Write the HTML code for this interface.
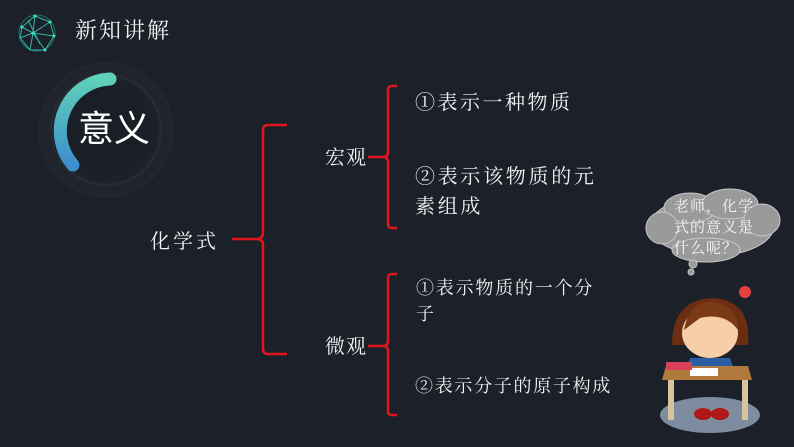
<!DOCTYPE html><html><head><meta charset="utf-8"><style>
body{margin:0;width:794px;height:447px;background:#1c2029;overflow:hidden;position:relative;font-family:"Liberation Serif","Noto Serif CJK SC",serif;color:#f2f2f2}
.t{position:absolute;white-space:nowrap;line-height:1}
</style></head><body>
<svg width="794" height="447" style="position:absolute;left:0;top:0">
<defs><linearGradient id="g" x1="0" y1="0" x2="0" y2="1"><stop offset="0" stop-color="#5fd0b9"/><stop offset="1" stop-color="#3f8fcf"/></linearGradient>
<radialGradient id="rg"><stop offset="0.6" stop-color="#1a1e26"/><stop offset="1" stop-color="#22262f"/></radialGradient></defs>
<g stroke="#2fb9a6" stroke-width="1" fill="none">
<circle cx="37" cy="33" r="18" stroke-opacity="0.5"/>
<path d="M22 27L35 16L50 22L54 36L45 50L30 50L20 38Z M35 16L33 33L50 22 M22 27L33 33L20 38 M33 33L45 50 M33 33L54 36 M33 33L30 50 M28 20L40 44"/>
</g>
<g fill="#3fe0c8"><circle cx="35" cy="16" r="1.5"/><circle cx="50" cy="22" r="1.5"/><circle cx="33" cy="33" r="1.5"/><circle cx="22" cy="27" r="1.5"/><circle cx="45" cy="50" r="1.5"/><circle cx="54" cy="36" r="1.5"/></g>
<circle cx="106" cy="130" r="68" fill="url(#rg)"/>
<circle cx="106" cy="130" r="55" fill="none" stroke="#262a33" stroke-width="3"/>
<path d="M73 165 A52 52 0 0 1 110 79" fill="none" stroke="url(#g)" stroke-width="13" stroke-linecap="round"/>
<g stroke="#e0161e" stroke-width="2.5" fill="none">
<path d="M287 125H268Q263 125 263 130V233Q263 239 256 239H232M256 239Q263 239 263 245V349Q263 354 268 354H287"/>
<path d="M397 86H392Q388 86 388 90V152Q388 157 383 157H368M383 157Q388 157 388 162V224Q388 228 392 228H397"/>
<path d="M397 274H392Q388 274 388 278V341Q388 346 383 346H368M383 346Q388 346 388 351V411Q388 415 392 415H397"/>
</g>
<g fill="#9a9a9a" stroke="#c8c8c8" stroke-width="1">
<ellipse cx="712" cy="226" rx="62" ry="30"/>
<ellipse cx="690" cy="208" rx="26" ry="15"/><ellipse cx="730" cy="204" rx="28" ry="15"/><ellipse cx="762" cy="220" rx="18" ry="16"/><ellipse cx="662" cy="228" rx="16" ry="16"/><ellipse cx="706" cy="250" rx="34" ry="12"/>
<circle cx="693" cy="264" r="4"/><circle cx="691" cy="272" r="3"/>
</g>
<path d="M672 345Q672 300 712 298Q752 300 748 345Z" fill="#6b2e10"/>
<ellipse cx="710" cy="333" rx="28" ry="25" fill="#f6cfa8"/>
<path d="M684 330Q690 300 712 302Q738 304 738 330Q725 312 700 318Z" fill="#7a3a16"/>
</svg>
<svg width="794" height="447" style="position:absolute;left:0;top:0">
<ellipse cx="710" cy="415" rx="50" ry="18" fill="#7e8ca0"/>
<circle cx="745" cy="292" r="6" fill="#e04040"/>
<path d="M690 358L730 358L736 376L684 376Z" fill="#2a5fa8"/>
<path d="M666 366L748 366L752 380L662 380Z" fill="#b07a3c"/>
<rect x="668" y="380" width="6" height="40" fill="#d8c49c"/><rect x="742" y="380" width="6" height="40" fill="#d8c49c"/>
<rect x="690" y="368" width="28" height="8" fill="#fff"/>
<rect x="666" y="362" width="26" height="8" fill="#d8405a"/>
<ellipse cx="703" cy="414" rx="9" ry="6" fill="#b01818"/><ellipse cx="720" cy="414" rx="9" ry="6" fill="#b01818"/>
</svg>
<div class="t" style="left:75px;top:20px;font-size:22px;letter-spacing:2px">新知讲解</div>
<div class="t" style="left:78px;top:111px;font-size:36px;font-family:'Liberation Sans','Noto Sans CJK SC',sans-serif;color:#fff">意义</div>
<div class="t" style="left:150px;top:232px;font-size:20px;letter-spacing:3px">化学式</div>
<div class="t" style="left:325px;top:148px;font-size:20px;letter-spacing:1px">宏观</div>
<div class="t" style="left:325px;top:337px;font-size:20px;letter-spacing:1px">微观</div>
<div class="t" style="left:415px;top:93px;font-size:20px;letter-spacing:2.5px">①表示一种物质</div>
<div class="t" style="left:415px;top:167px;font-size:20px;letter-spacing:2.7px">②表示该物质的元</div>
<div class="t" style="left:415px;top:197px;font-size:20px;letter-spacing:2.7px">素组成</div>
<div class="t" style="left:416px;top:279px;font-size:18px;letter-spacing:1.8px">①表示物质的一个分</div>
<div class="t" style="left:416px;top:305px;font-size:18px">子</div>
<div class="t" style="left:415px;top:377px;font-size:18px;letter-spacing:1.7px">②表示分子的原子构成</div>
<div class="t" style="left:674px;top:197px;font-size:15px;line-height:21px;white-space:normal;width:84px;color:#f4f4f4;letter-spacing:1px">老师，化学式的意义是什么呢？</div>
</body></html>
